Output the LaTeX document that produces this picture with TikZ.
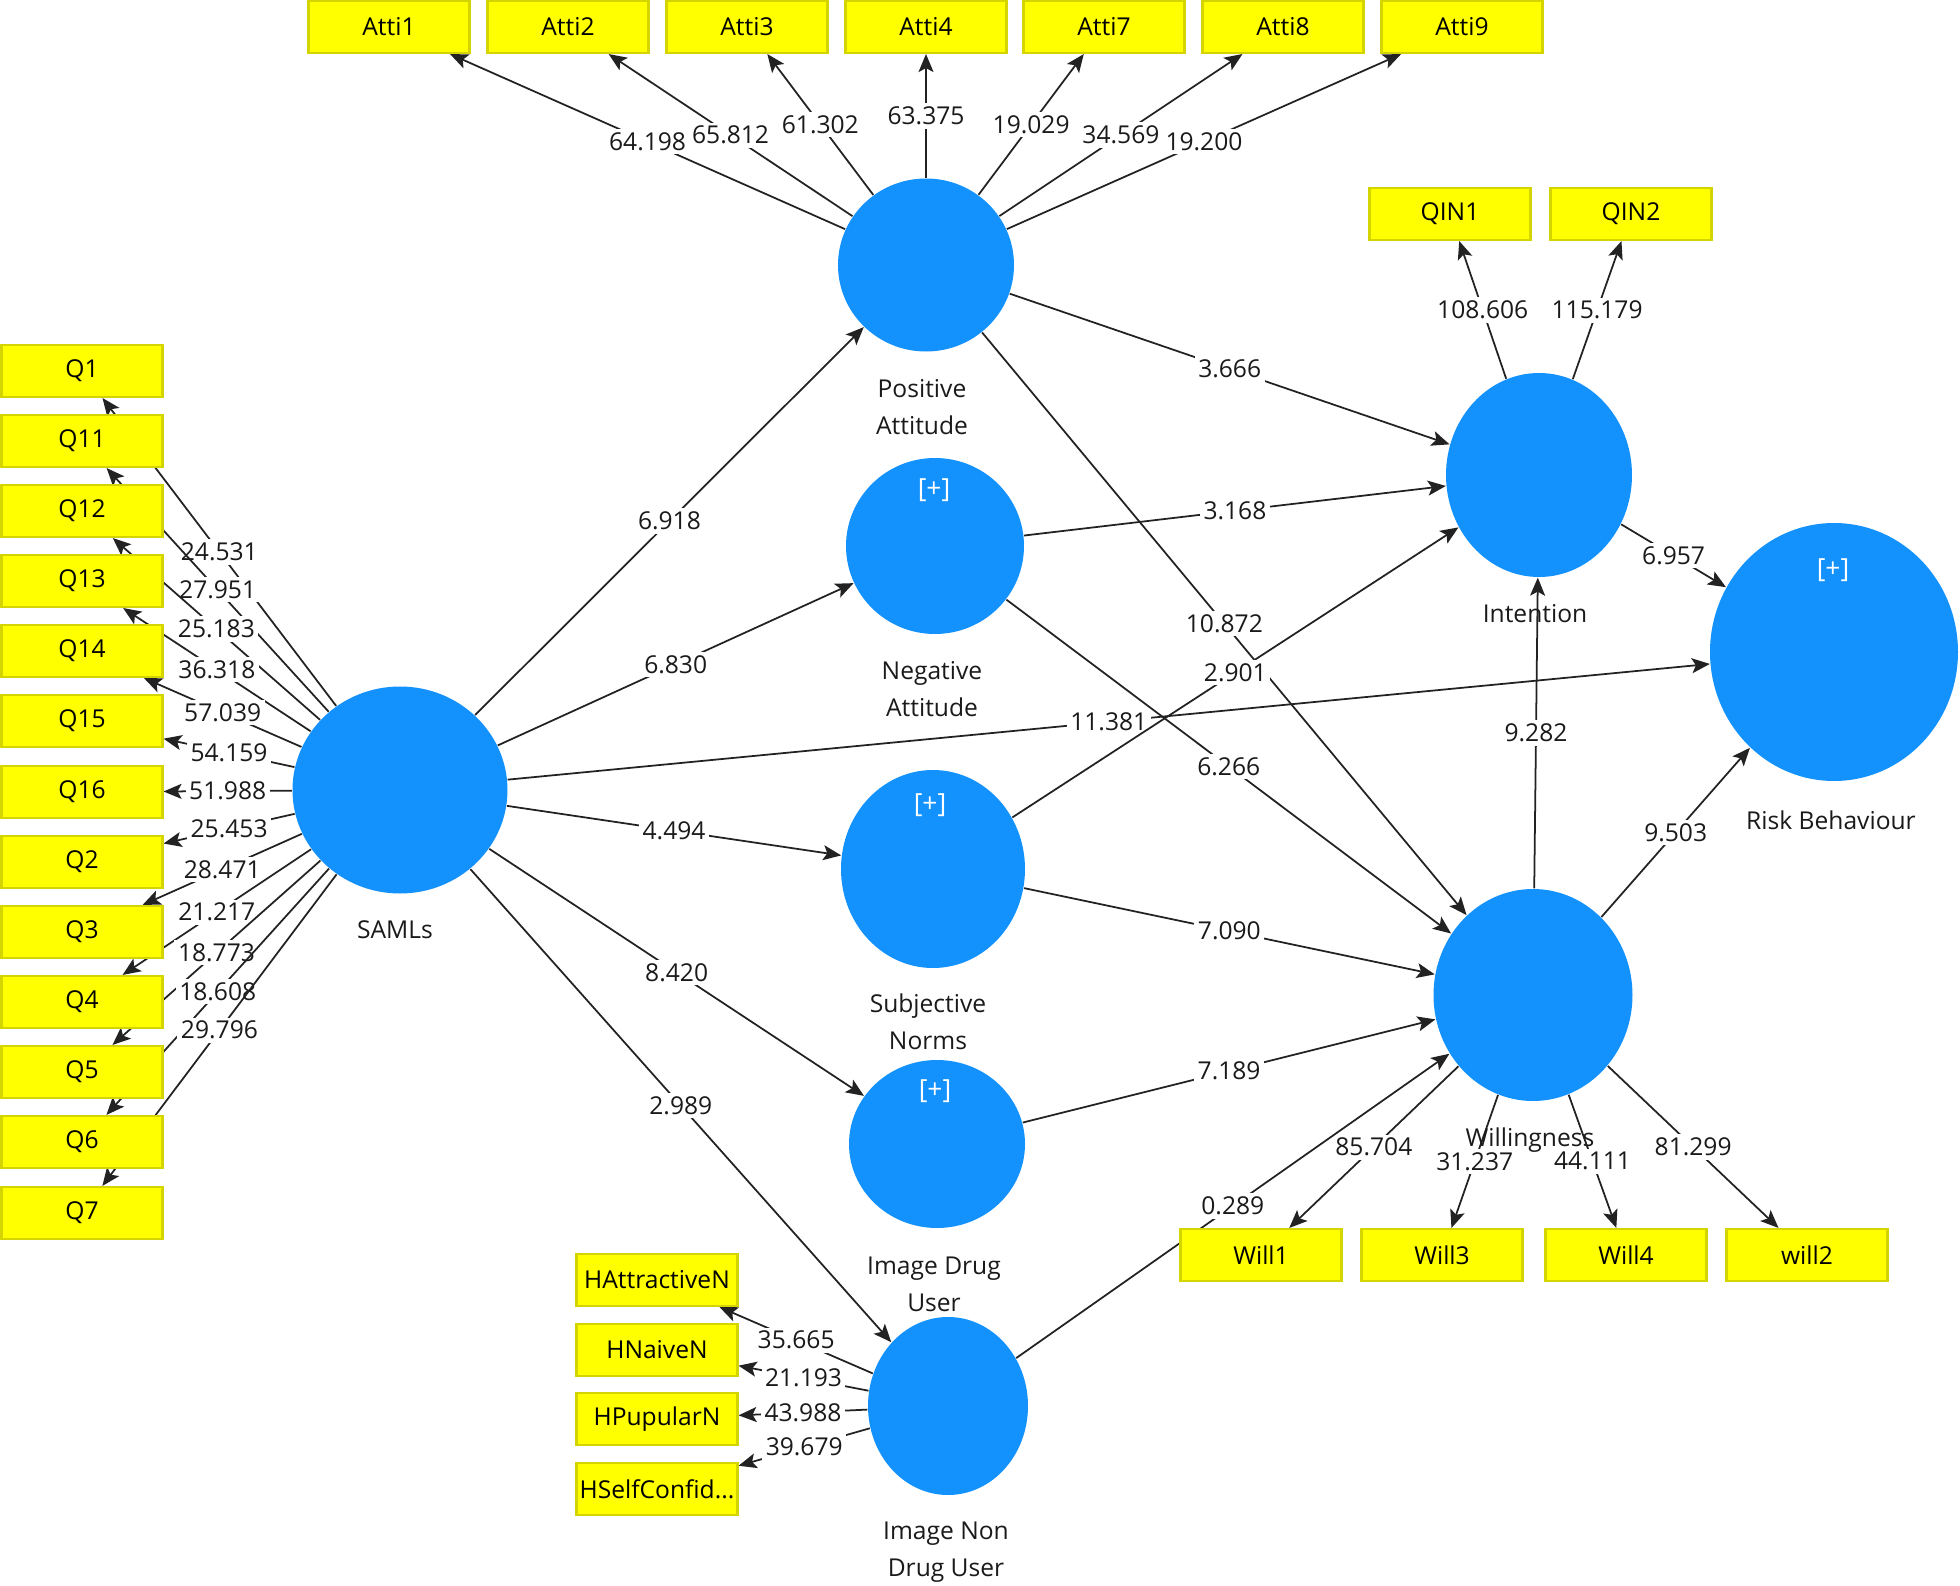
\documentclass[tikz,border=0pt]{standalone}
\usepackage{fontspec}
\setmainfont{Open Sans}
\usetikzlibrary{arrows.meta,shapes.geometric,backgrounds}
\definecolor{Ink}{HTML}{1A1A1A}
\definecolor{Wire}{HTML}{222222}
\definecolor{LvBlue}{HTML}{1391FD}
\definecolor{IndFill}{HTML}{FFFF00}
\definecolor{IndLine}{HTML}{D4D400}
\tikzset{
  lv/.style={ellipse,fill=LvBlue,draw=none,inner sep=0pt},
  lvname/.style={font=\fontsize{7}{10.5}\selectfont,align=center,text=Ink},
  plus/.style={font=\fontsize{7.5}{9}\selectfont,text=white},
  ind/.style={rectangle,fill=IndFill,draw=IndLine,line width=0.6pt,minimum width=1.61cm,minimum height=0.52cm,inner sep=0pt,text=black,font=\fontsize{7}{8}\selectfont},
  pth/.style={draw=Wire,line width=0.5pt,-{Stealth[length=1.8mm,width=1.5mm,inset=0.4mm]}},
  val/.style={fill=white,inner sep=1pt,text=Ink,font=\fontsize{7}{8}\selectfont},
}

\begin{document}
\begin{tikzpicture}[x=0.1mm,y=-0.1mm]
\path[use as bounding box] (0,0) rectangle (1960,1586);

% latent variables
\node[lv,minimum width=2.15cm,minimum height=2.07cm] (saml) at (400,790) {};
\node[lv,minimum width=1.76cm,minimum height=1.73cm] (pa) at (926,265) {};
\node[lv,minimum width=1.78cm,minimum height=1.76cm] (na) at (935,546) {};
\node[lv,minimum width=1.84cm,minimum height=1.98cm] (sn) at (933,869) {};
\node[lv,minimum width=1.76cm,minimum height=1.68cm] (idu) at (937,1144) {};
\node[lv,minimum width=1.60cm,minimum height=1.78cm] (indu) at (948,1406) {};
\node[lv,minimum width=1.86cm,minimum height=2.04cm] (int) at (1539,475) {};
\node[lv,minimum width=1.99cm,minimum height=2.12cm] (will) at (1533,995) {};
\node[lv,minimum width=2.48cm,minimum height=2.58cm] (rb) at (1834,652) {};

\node[plus] (naplus) at (934,490) {[+]};
\node[plus] (snplus) at (930,805) {[+]};
\node[plus] (iduplus) at (935,1091) {[+]};
\node[plus] (rbplus) at (1833,570) {[+]};

% indicators
\node[ind] (a1) at (389,27) {Atti1};
\node[ind] (a2) at (568,27) {Atti2};
\node[ind] (a3) at (747,27) {Atti3};
\node[ind] (a4) at (926,27) {Atti4};
\node[ind] (a7) at (1104,27) {Atti7};
\node[ind] (a8) at (1283,27) {Atti8};
\node[ind] (a9) at (1462,27) {Atti9};
\node[ind] (qin1) at (1450,214) {QIN1};
\node[ind] (qin2) at (1631,214) {QIN2};
\node[ind] (w1) at (1261,1255) {Will1};
\node[ind] (w3) at (1442,1255) {Will3};
\node[ind] (w4) at (1626,1255) {Will4};
\node[ind] (w2) at (1807,1255) {will2};
\node[ind] (q1) at (82,371) {Q1};
\node[ind] (q11) at (82,441) {Q11};
\node[ind] (q12) at (82,511) {Q12};
\node[ind] (q13) at (82,581) {Q13};
\node[ind] (q14) at (82,651) {Q14};
\node[ind] (q15) at (82,721) {Q15};
\node[ind] (q16) at (82,792) {Q16};
\node[ind] (q2) at (82,862) {Q2};
\node[ind] (q3) at (82,932) {Q3};
\node[ind] (q4) at (82,1002) {Q4};
\node[ind] (q5) at (82,1072) {Q5};
\node[ind] (q6) at (82,1142) {Q6};
\node[ind] (q7) at (82,1213) {Q7};
\node[ind] (hatt) at (657,1280) {HAttractiveN};
\node[ind] (hnai) at (657,1350) {HNaiveN};
\node[ind] (hpup) at (657,1419) {HPupularN};
\node[ind] (hsel) at (657,1489) {HSelfConfid...};

% names under the circles
\node[lvname] (samlname) at (395,930) {SAMLs};
\node[lvname] (paname) at (922,407) {Positive\\Attitude};
\node[lvname] (naname) at (932,689) {Negative\\Attitude};
\node[lvname] (snname) at (928,1022) {Subjective\\Norms};
\node[lvname] (iduname) at (934,1284) {Image Drug\\User};
\node[lvname] (induname) at (946,1552) {Image Non\\Drug User};
\node[lvname] (intname) at (1535,614) {Intention};
\node[lvname] (willname) at (1530,1140) {Willingness};
\node[lvname] (rbname) at (1831,820) {Risk Behaviour};

\begin{scope}[on background layer]
% outer loadings
\draw[pth] (pa) -- node[val]{64.198} (a1);
\draw[pth] (pa) -- node[val]{65.812} (a2);
\draw[pth] (pa) -- node[val]{61.302} (a3);
\draw[pth] (pa) -- node[val]{63.375} (a4);
\draw[pth] (pa) -- node[val]{19.029} (a7);
\draw[pth] (pa) -- node[val]{34.569} (a8);
\draw[pth] (pa) -- node[val]{19.200} (a9);
\draw[pth] (int) -- node[val]{108.606} (qin1);
\draw[pth] (int) -- node[val]{115.179} (qin2);
\draw[pth] (will) -- node[val]{85.704} (w1);
\draw[pth] (will) -- node[val]{31.237} (w3);
\draw[pth] (will) -- node[val]{44.111} (w4);
\draw[pth] (will) -- node[val]{81.299} (w2);
\draw[pth] (saml) -- node[val]{24.531} (q1);
\draw[pth] (saml) -- node[val]{27.951} (q11);
\draw[pth] (saml) -- node[val]{25.183} (q12);
\draw[pth] (saml) -- node[val]{36.318} (q13);
\draw[pth] (saml) -- node[val]{57.039} (q14);
\draw[pth] (saml) -- node[val]{54.159} (q15);
\draw[pth] (saml) -- node[val]{51.988} (q16);
\draw[pth] (saml) -- node[val]{25.453} (q2);
\draw[pth] (saml) -- node[val]{28.471} (q3);
\draw[pth] (saml) -- node[val]{21.217} (q4);
\draw[pth] (saml) -- node[val]{18.773} (q5);
\draw[pth] (saml) -- node[val]{18.608} (q6);
\draw[pth] (saml) -- node[val]{29.796} (q7);
\draw[pth] (indu) -- node[val]{35.665} (hatt);
\draw[pth] (indu) -- node[val]{21.193} (hnai);
\draw[pth] (indu) -- node[val]{43.988} (hpup);
\draw[pth] (indu) -- node[val]{39.679} (hsel);
% inner model
\draw[pth] (saml) -- node[val]{6.918} (pa);
\draw[pth] (saml) -- node[val]{6.830} (na);
\draw[pth] (saml) -- node[val]{4.494} (sn);
\draw[pth] (saml) -- node[val]{8.420} (idu);
\draw[pth] (saml) -- node[val]{2.989} (indu);
\draw[pth] (saml) -- node[val]{11.381} (rb);
\draw[pth] (pa) -- node[val]{3.666} (int);
\draw[pth] (pa) -- node[val]{10.872} (will);
\draw[pth] (na) -- node[val]{3.168} (int);
\draw[pth] (na) -- node[val]{6.266} (will);
\draw[pth] (sn) -- node[val]{2.901} (int);
\draw[pth] (sn) -- node[val]{7.090} (will);
\draw[pth] (idu) -- node[val]{7.189} (will);
\draw[pth] (indu) -- node[val]{0.289} (will);
\draw[pth] (will) -- node[val]{9.282} (int);
\draw[pth] (int) -- node[val]{6.957} (rb);
\draw[pth] (will) -- node[val]{9.503} (rb);
\end{scope}
\end{tikzpicture}
\end{document}
